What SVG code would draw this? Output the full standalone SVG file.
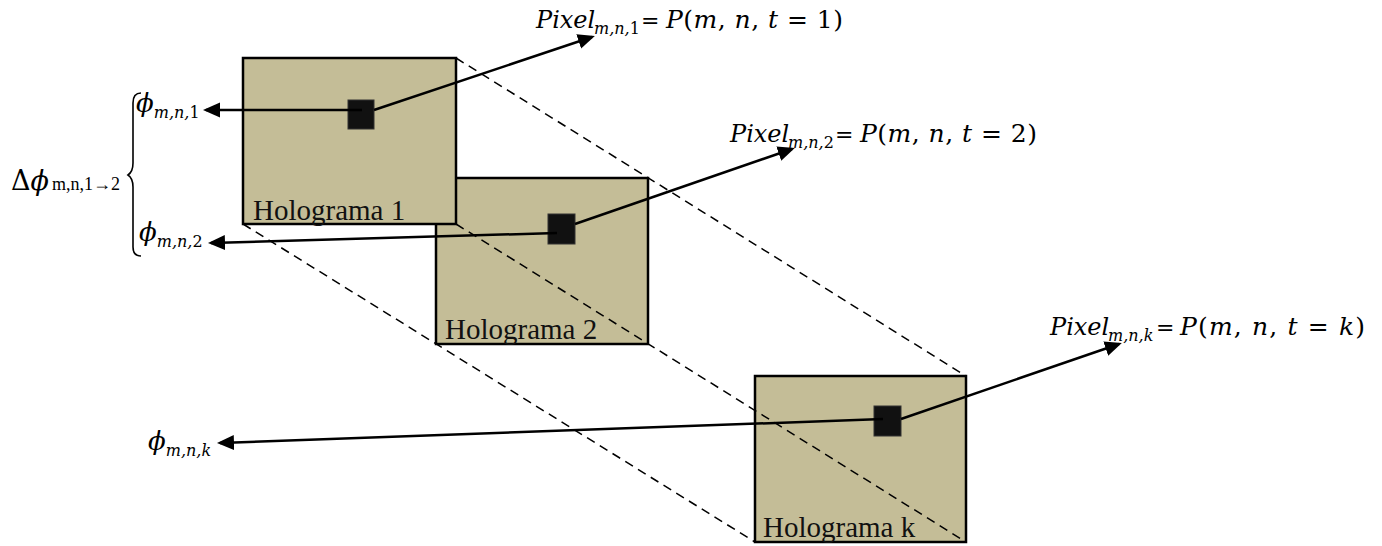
<svg xmlns="http://www.w3.org/2000/svg" width="1382" height="546" viewBox="0 0 1382 546">
<defs>
<marker id="ah" markerUnits="userSpaceOnUse" markerWidth="19" markerHeight="16" refX="14" refY="7.5" orient="auto"><path d="M0,0 L17,7.5 L0,15 Z" fill="#000"/></marker>
<style>
.box{fill:#C4BD97;stroke:#000;stroke-width:2.5}
.px{fill:#111;stroke:#333;stroke-width:1}
.lbl{font-family:"Liberation Serif","Times New Roman",serif;font-size:29px;fill:#111}
.conn{stroke:#000;stroke-width:2.5;fill:none;marker-end:url(#ah)}
.dash{stroke:#000;stroke-width:1.5;stroke-dasharray:9 6;fill:none}
.m{font-family:"DejaVu Serif",serif;font-size:25px;fill:#000}
.pv{font-size:24px}
.eq{font-size:22px}
.ph{font-family:"DejaVu Serif",serif;font-size:26px;fill:#000}
.it{font-style:italic}
.s{font-size:16px}
.sr{font-family:"Liberation Serif",serif;font-size:18px;fill:#000}
.brace{stroke:#000;stroke-width:1.6;fill:none}
</style>
</defs>
<rect width="1382" height="546" fill="#fff"/>
<g id="holograma2">
<rect class="box" x="436" y="178" width="212" height="166"/>
<rect class="px" x="548" y="214" width="27" height="30"/>
<text class="lbl" x="445" y="339">Holograma 2</text>
</g>
<g id="holograma1">
<rect class="box" x="243" y="58" width="213" height="166"/>
<rect class="px" x="348" y="100" width="26" height="29"/>
<text class="lbl" x="253" y="220">Holograma 1</text>
</g>
<g id="hologramak">
<rect class="box" x="755" y="376" width="211" height="166"/>
<rect class="px" x="874" y="406" width="27" height="30"/>
<text class="lbl" x="763" y="537">Holograma k</text>
</g>
<g id="guides">
<path class="dash" d="M456,58 L966,376"/>
<path class="dash" d="M243,224 L755,542"/>
<path class="dash" d="M456,224 L966,542"/>
</g>
<g id="connectors">
<path class="conn" d="M362,110 L206,110"/>
<path class="conn" d="M374,110 L592,37"/>
<path class="conn" d="M557,233 L211,243"/>
<path class="conn" d="M575,224 L792,149"/>
<path class="conn" d="M883,419 L220,443"/>
<path class="conn" d="M901,419 L1119,344"/>
</g>
<g id="label-pixel-1">
<text class="m"><tspan class="it pv" x="536" y="28">Pixel</tspan><tspan class="s it" x="594" y="34">m,n,</tspan><tspan class="s">1</tspan><tspan class="eq" x="641" y="28">=</tspan></text>
<text class="m" x="666" y="28" textLength="177" lengthAdjust="spacing"><tspan class="it">P</tspan>(<tspan class="it">m</tspan>, <tspan class="it">n</tspan>, <tspan class="it">t</tspan> = 1)</text>
</g>
<g id="label-pixel-2">
<text class="m"><tspan class="it pv" x="730" y="142">Pixel</tspan><tspan class="s it" x="788" y="148">m,n,</tspan><tspan class="s">2</tspan><tspan class="eq" x="835" y="142">=</tspan></text>
<text class="m" x="860" y="142" textLength="177" lengthAdjust="spacing"><tspan class="it">P</tspan>(<tspan class="it">m</tspan>, <tspan class="it">n</tspan>, <tspan class="it">t</tspan> = 2)</text>
</g>
<g id="label-pixel-k">
<text class="m"><tspan class="it pv" x="1050" y="335">Pixel</tspan><tspan class="s it" x="1108" y="341">m,n,k</tspan><tspan class="eq" x="1156" y="335">=</tspan></text>
<text class="m" x="1180" y="335" textLength="185" lengthAdjust="spacing"><tspan class="it">P</tspan>(<tspan class="it">m</tspan>, <tspan class="it">n</tspan>, <tspan class="it">t</tspan> = <tspan class="it">k</tspan>)</text>
</g>
<g id="label-phi-1">
<text class="ph"><tspan class="it" x="136" y="112">ϕ</tspan><tspan class="s it" y="118">m,n,</tspan><tspan class="s">1</tspan></text>
</g>
<g id="label-phi-2">
<text class="ph"><tspan class="it" x="139" y="241">ϕ</tspan><tspan class="s it" y="247">m,n,</tspan><tspan class="s">2</tspan></text>
</g>
<g id="label-phi-k">
<text class="ph"><tspan class="it" x="148" y="450">ϕ</tspan><tspan class="s it" y="456">m,n,k</tspan></text>
</g>
<g id="label-delta-phi">
<text class="ph" style="font-size:27px" x="11" y="190">Δ<tspan class="it">ϕ</tspan></text>
<text class="sr" x="52" y="190">m,n,1→2</text>
<path class="brace" d="M141,93 C135,93 133,97 133,103 L133,163 C133,169 131,173 128,175 C131,177 133,181 133,187 L133,247 C133,253 135,256 141,256"/>
</g>
</svg>
